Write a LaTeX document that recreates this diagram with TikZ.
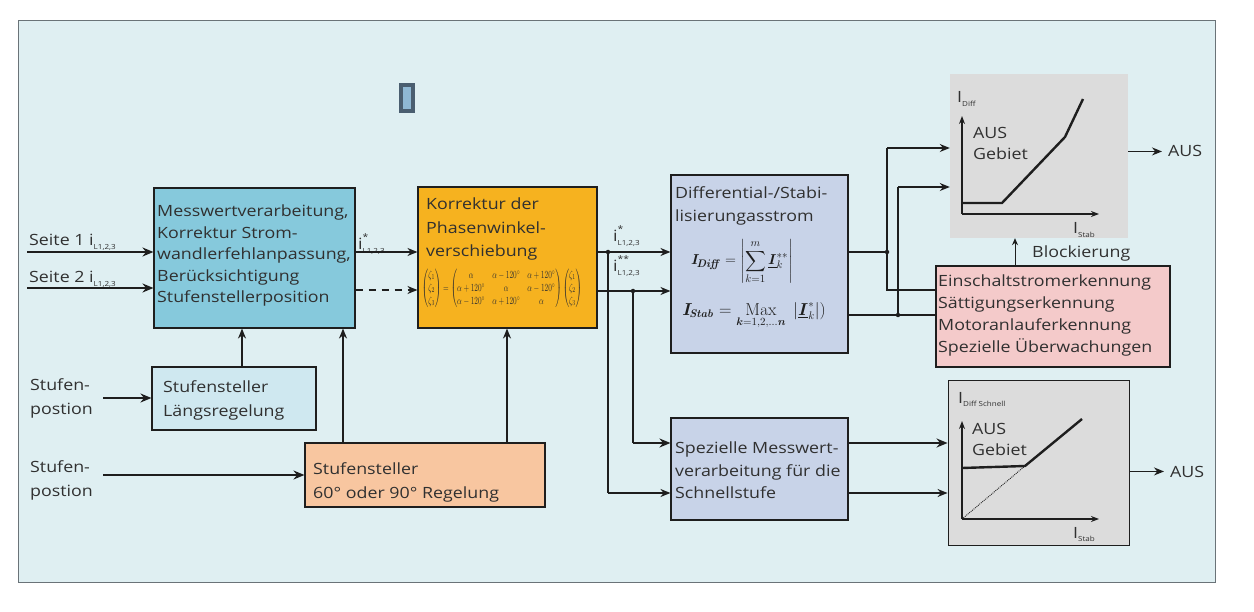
\documentclass[tikz,border=0pt]{standalone}
\usepackage{amsmath}
\usepackage{bm}
\usepackage{graphicx}
\usepackage[no-math]{fontspec}
\setmainfont{Open Sans}[FakeStretch=1.15]
\usetikzlibrary{arrows.meta}

\definecolor{panel}{HTML}{DFEFF2}
\definecolor{panelline}{HTML}{6A7378}
\definecolor{bluebox}{HTML}{86C9DC}
\definecolor{orangebox}{HTML}{F6B21F}
\definecolor{lavbox}{HTML}{C8D3E8}
\definecolor{greybox}{HTML}{DCDCDC}
\definecolor{pinkbox}{HTML}{F4CACA}
\definecolor{lightblue}{HTML}{CFE8F0}
\definecolor{peach}{HTML}{F8C6A0}
\definecolor{ink}{HTML}{1E1E1E}
\definecolor{txt}{HTML}{303030}
\definecolor{slate}{HTML}{4A5E70}
\definecolor{sqfill}{HTML}{8FB8D4}

\newcommand\mysub[1]{\raisebox{-0.25em}{\fontsize{7}{7}\selectfont #1}}
\newcommand\myisx[2]{i\makebox[0pt][l]{\raisebox{0.62em}{\fontsize{9}{9}\selectfont #1}}\mysub{#2}}

\begin{document}
\begin{tikzpicture}[x=1pt,y=-1pt,
  box/.style={draw=ink, line width=1.1pt, inner sep=0pt},
  lbl/.style={inner sep=0pt, text=txt, align=left, font=\fontsize{15.5}{22}\selectfont},
  arr/.style={draw=ink, line width=1.3pt, -{Stealth[length=10pt,width=8pt]}},
  tarr/.style={draw=ink, line width=2.2pt, -{Stealth[length=11pt,width=9pt]}},
  ln/.style={draw=ink, line width=1.3pt},
  jdot/.style={circle, fill=ink, inner sep=0pt, minimum size=4.5pt},
  curve/.style={draw=ink, line width=2.4pt, line join=miter},
  axis/.style={draw=ink, line width=1.5pt, -{Stealth[length=8pt,width=6pt]}}
]
\useasboundingbox (0,0) rectangle (1254,612);
\fill[white] (0,0) rectangle (1254,612);
\draw[panelline, line width=0.8pt, fill=panel] (18,20) rectangle (1215,582);

% small square
\node[draw=slate, line width=4pt, fill=sqfill, minimum width=12pt, minimum height=26pt, inner sep=0pt] (sq) at (407,98) {};

% boxes
\node[box, fill=bluebox, minimum width=201pt, minimum height=140pt] (blue) at (254.5,258) {};
\node[box, fill=orangebox, minimum width=179pt, minimum height=141pt] (orange) at (507.5,257.5) {};
\node[box, fill=lavbox, minimum width=177pt, minimum height=178pt] (diff) at (759.5,264) {};
\node[box, fill=lavbox, minimum width=177pt, minimum height=102pt] (spez) at (759.5,469) {};
\node[inner sep=0pt, fill=greybox, minimum width=178pt, minimum height=164pt] (graph1) at (1039,156) {};
\node[box, fill=pinkbox, minimum width=234pt, minimum height=101pt] (pink) at (1053,316.5) {};
\node[box, fill=greybox, line width=0.9pt, minimum width=181pt, minimum height=165pt] (graph2) at (1038.5,462.5) {};
\node[box, fill=lightblue, minimum width=164pt, minimum height=63pt] (laengs) at (234,398.5) {};
\node[box, fill=peach, minimum width=240pt, minimum height=64pt] (sixty) at (425,475) {};

% box texts
\node[lbl, anchor=north west, font=\fontsize{15.5}{21.5}\selectfont] (tblue) at (157,205) {Messwertverarbeitung,\\Korrektur Strom-\\wandlerfehlanpassung,\\Berücksichtigung\\Stufenstellerposition};
\node[lbl, anchor=north west, font=\fontsize{15.5}{23.5}\selectfont] (torange) at (426,198) {Korrektur der\\Phasenwinkel-\\verschiebung};
\node[inner sep=0pt, text=txt] (mat) at (502,288.5) {\resizebox*{160pt}{39pt}{$\left(\begin{matrix}\zeta_1\\ \zeta_2\\ \zeta_3\end{matrix}\right)=\left(\begin{matrix}\alpha & \alpha-120^\circ & \alpha+120^\circ\\ \alpha+120^\circ & \alpha & \alpha-120^\circ\\ \alpha-120^\circ & \alpha+120^\circ & \alpha\end{matrix}\right)\left(\begin{matrix}\zeta_1\\ \zeta_2\\ \zeta_3\end{matrix}\right)$}};
\node[lbl, anchor=north west, font=\fontsize{15.5}{23}\selectfont] (tdiff) at (675,186) {Differential-/Stabi-\\lisierungasstrom};
\node[inner sep=0pt, text=ink, font=\fontsize{15}{17}\selectfont] (fdiff) at (742,262) {$\bm{I}_{\!\bm{\mathit{Diff}}} = \left|\displaystyle\sum_{k=1}^{m}\underline{\bm{I}}_{k}^{**}\right|$};
\node[inner sep=0pt, text=ink, font=\fontsize{16}{18}\selectfont] (fstab) at (754,316) {$\bm{I}_{\!\bm{\mathit{Stab}}} = \underset{\bm{k}=1,2,\ldots\bm{n}}{\mathrm{Max}}\;\left|\underline{\bm{I}}_{k}^{*}\right|)$};
\node[lbl, anchor=north west, font=\fontsize{15.5}{22.5}\selectfont] (tspez) at (675,442) {Spezielle Messwert-\\verarbeitung für die\\Schnellstufe};
\node[lbl, anchor=north west, font=\fontsize{15.5}{21.7}\selectfont] (tpink) at (938,275) {Einschaltstromerkennung\\Sättigungserkennung\\Motoranlauferkennung\\Spezielle Überwachungen};
\node[lbl, anchor=north west, font=\fontsize{15.5}{24}\selectfont] (tlaengs) at (163,380) {Stufensteller\\Längsregelung};
\node[lbl, anchor=north west, font=\fontsize{15.5}{24}\selectfont] (tsixty) at (313,462) {Stufensteller\\60° oder 90° Regelung};

% left labels
\node[lbl, anchor=base west] (s1) at (29,246) {Seite 1 i\mysub{L1,2,3}};
\node[lbl, anchor=base west] (s2) at (29,283) {Seite 2 i\mysub{L1,2,3}};
\node[lbl, anchor=north west, font=\fontsize{15.5}{24}\selectfont] (st1) at (30,378) {Stufen-\\postion};
\node[lbl, anchor=north west, font=\fontsize{15.5}{24}\selectfont] (st2) at (30,460) {Stufen-\\postion};

% signal labels
\node[lbl, anchor=base west] (i1) at (358,250) {\myisx{*}{L1,2,3}};
\node[lbl, anchor=base west] (i2) at (613,242) {\myisx{*}{L1,2,3}};
\node[lbl, anchor=base west] (i3) at (613,272) {\myisx{**}{L1,2,3}};

% graph 1
\node[lbl, anchor=base west] (g1y) at (957,103) {I\mysub{Diff}};
\node[lbl, anchor=base west] (g1x) at (1073,234) {I\mysub{Stab}};
\node[lbl, anchor=north west, font=\fontsize{15.5}{21}\selectfont] (g1t) at (973,127) {AUS\\Gebiet};
\draw[axis] (962,214) -- (962,116);
\draw[axis] (962,214) -- (1099,214);
\draw[curve] (962,203) -- (1002,203) -- (1065,137) -- (1083,99);

% graph 2
\node[lbl, anchor=base west] (g2y) at (958,403) {I\mysub{Diff Schnell}};
\node[lbl, anchor=base west] (g2x) at (1073,538) {I\mysub{Stab}};
\node[lbl, anchor=north west, font=\fontsize{15.5}{21}\selectfont] (g2t) at (972,423) {AUS\\Gebiet};
\draw[axis] (962,519) -- (962,421);
\draw[axis] (962,519) -- (1099,519);
\draw[curve] (962,468) -- (1025,466) -- (1082,419);
\draw[ink, line width=0.9pt, densely dotted] (962,519) -- (1025,466);

% outputs
\node[lbl, anchor=base west] (aus1) at (1168,157) {AUS};
\node[lbl, anchor=base west] (aus2) at (1170,477) {AUS};
\node[lbl, anchor=base west] (blk) at (1032,258) {Blockierung};

% ---------- connectors ----------
\coordinate (in1) at (27,252);
\coordinate (in2) at (27,288);
\coordinate (in3) at (103,398);
\coordinate (in4) at (103,475);
\draw[tarr] (in1) -- (blue.west |- in1);
\draw[tarr] (in2) -- (blue.west |- in2);
\draw[tarr] (in3) -- (laengs.west |- in3);
\draw[tarr] (in4) -- (sixty.west |- in4);

\coordinate (ya) at (0,252);
\coordinate (yb) at (0,290);
\draw[arr] (blue.east |- ya) -- (orange.west |- ya);
\draw[arr, dashed, dash pattern=on 7pt off 6pt] (blue.east |- yb) -- (orange.west |- yb);

\coordinate (xa) at (242,0);
\coordinate (xb) at (343,0);
\coordinate (xc) at (507,0);
\draw[arr] (laengs.north -| xa) -- (blue.south -| xa);
\draw[arr] (sixty.north -| xb) -- (blue.south -| xb);
\draw[arr] (sixty.north -| xc) -- (orange.south -| xc);

\coordinate (j1) at (608,252);
\coordinate (j2) at (633,291);
\coordinate (c1) at (608,493);
\coordinate (c2) at (633,443);
\draw[arr] (orange.east |- j1) -- (diff.west |- j1);
\draw[arr] (orange.east |- j2) -- (diff.west |- j2);
\draw[ln] (j1) -- (c1);
\draw[arr] (c1) -- (spez.west |- c1);
\draw[ln, line width=1.8pt] (j2) -- (c2);
\draw[tarr] (c2) -- (spez.west |- c2);
\node[jdot] at (j1) {};
\node[jdot] at (j2) {};

\draw[tarr] (spez.east |- c2) -- (graph2.west |- c2);
\draw[arr] (spez.east |- c1) -- (graph2.west |- c1);

\coordinate (k1) at (887,252);
\coordinate (k1t) at (887,148);
\coordinate (k1b) at (887,290);
\coordinate (k2) at (898,315);
\coordinate (k2t) at (898,187);
\draw[ln] (diff.east |- k1) -- (k1);
\draw[ln] (k1t) -- (k1b) -- (pink.west |- k1b);
\draw[arr] (k1t) -- (graph1.west |- k1t);
\draw[ln] (diff.east |- k2) -- (pink.west |- k2);
\draw[ln] (k2) -- (k2t);
\draw[arr] (k2t) -- (graph1.west |- k2t);
\node[jdot] at (k1) {};
\node[jdot] at (k2) {};

\coordinate (xd) at (1015,0);
\draw[draw=ink, line width=1pt, -{Stealth[length=7pt,width=6pt]}] (pink.north -| xd) -- (graph1.south -| xd);

\draw[arr] (graph1.east |- aus1.west) -- ([xshift=-6pt]aus1.west);
\draw[arr] (graph2.east |- aus2.west) -- ([xshift=-6pt]aus2.west);
\end{tikzpicture}
\end{document}
